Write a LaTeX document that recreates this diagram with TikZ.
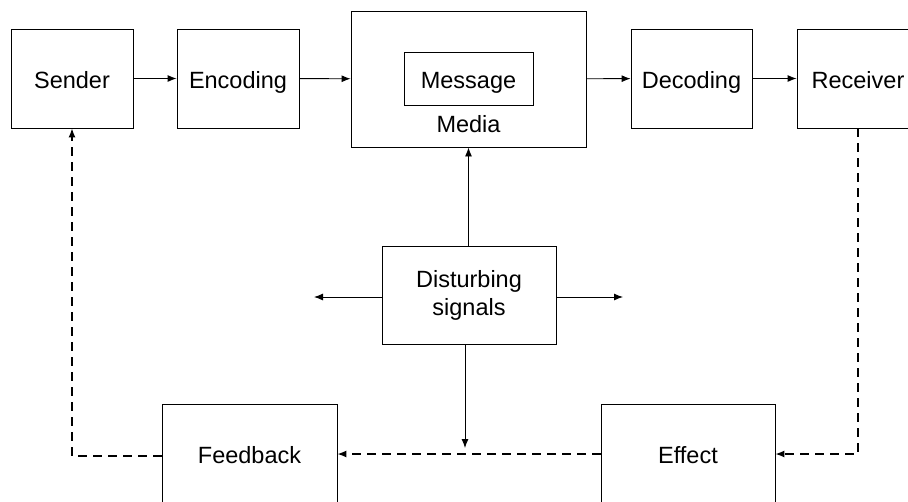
\documentclass[tikz,border=0pt]{standalone}
\usepackage{fontspec}
\setmainfont{Liberation Sans}
\usetikzlibrary{arrows.meta,calc}
\begin{document}
\begin{tikzpicture}[x=1pt,y=-1pt,
  txt/.style={font=\fontsize{23.5}{28}\selectfont, text height=20pt, text depth=1pt},
  box/.style={draw, line width=0.9pt, minimum width=#1, inner sep=0pt, txt},
  arr/.style={line width=0.9pt, -{Latex[length=9pt,width=7pt]}},
  darr/.style={line width=1.3pt, dash pattern=on 9pt off 6pt, -{Latex[length=9pt,width=7pt]}}]
\clip (0,0) rectangle (908,501);
\fill[white] (0,0) rectangle (908,501);
\node[box=122pt, minimum height=99pt] (sender) at (72,78.5) {Sender};
\node[box=122pt, minimum height=99pt] (encoding) at (238,78.5) {Encoding};
\node[box=235pt, minimum height=136pt] (media) at (468.5,79) {};
\node[box=129pt, minimum height=53pt] (message) at (468.5,78.5) {Message};
\node[txt, inner sep=0pt] (medialabel) at (468.5,122.5) {Media};
\node[box=121pt, minimum height=99pt] (decoding) at (691.5,78.5) {Decoding};
\node[box=122pt, minimum height=99pt] (receiver) at (858,78.5) {Receiver};
\node[box=174pt, minimum height=98pt, align=center, text height=, text depth=] (dist) at (469,295) {Disturbing\\signals};
\node[box=175pt, minimum height=100pt] (feedback) at (249.5,454) {Feedback};
\node[box=174pt, minimum height=100pt] (effect) at (688,454) {Effect};
\coordinate (leftend) at (314,297);
\coordinate (rightend) at (623,297);
\coordinate (downend) at (465,448);
\coordinate (rcorner) at (858,454);
\coordinate (fcorner) at (72,456);
\draw[arr] (sender) -- (encoding);
\draw[arr] (encoding) -- (media);
\draw[arr] (media) -- (decoding);
\draw[arr] (decoding) -- (receiver);
\draw[arr] (dist.north -| media.south) -- (media.south);
\draw[arr] (dist.west |- leftend) -- (leftend);
\draw[arr] (dist.east |- rightend) -- (rightend);
\draw[arr] (dist.south -| downend) -- (downend);
\draw[darr] (receiver.south) -- (rcorner) -- (effect.east);
\draw[darr] (effect.west) -- (feedback.east);
\draw[darr] (feedback.west |- fcorner) -- (fcorner) -- (sender.south);
\end{tikzpicture}
\end{document}
